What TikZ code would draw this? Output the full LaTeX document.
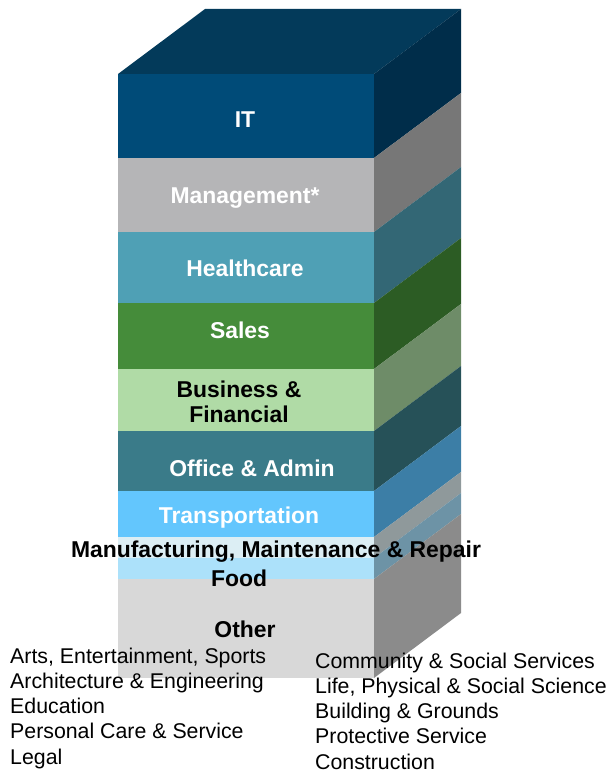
\documentclass[tikz,border=0pt]{standalone}
\usepackage{fontspec}
\setmainfont{Liberation Sans}
\definecolor{topface}{HTML}{033A5A}
\definecolor{itfront}{HTML}{004B78}
\definecolor{itside}{HTML}{002D4A}
\definecolor{mgmtfront}{HTML}{B5B5B7}
\definecolor{mgmtside}{HTML}{777777}
\definecolor{healthfront}{HTML}{4FA0B5}
\definecolor{healthside}{HTML}{336775}
\definecolor{salesfront}{HTML}{458C3A}
\definecolor{salesside}{HTML}{2C5C24}
\definecolor{busfront}{HTML}{B0DBA6}
\definecolor{busside}{HTML}{6E8C68}
\definecolor{officefront}{HTML}{3A7B89}
\definecolor{officeside}{HTML}{265158}
\definecolor{transfront}{HTML}{63C6FD}
\definecolor{transside}{HTML}{3C7EA6}
\definecolor{manufront}{HTML}{DCEEF4}
\definecolor{manuside}{HTML}{8F999B}
\definecolor{foodfront}{HTML}{ACE1FA}
\definecolor{foodside}{HTML}{6D93A6}
\definecolor{otherfront}{HTML}{D8D8D8}
\definecolor{otherside}{HTML}{8B8B8B}
\tikzset{
  layer/.style={font=\fontsize{23}{25}\selectfont\bfseries, anchor=base, inner sep=0pt},
  oclist/.style={font=\fontsize{21.4}{25.2}\selectfont, align=left, anchor=base west, inner sep=0pt}
}
\begin{document}
\begin{tikzpicture}[x=1bp, y=-1bp]
    \useasboundingbox (0,0) rectangle (608,772);
    % top face
    \fill[topface] (118,74)--(205,9)--(461,9)--(374,74)--cycle;
    % front faces
    \fill[itfront] (118,74) rectangle (374,158);
    \fill[mgmtfront] (118,158) rectangle (374,232);
    \fill[healthfront] (118,232) rectangle (374,303);
    \fill[salesfront] (118,303) rectangle (374,369);
    \fill[busfront] (118,369) rectangle (374,431);
    \fill[officefront] (118,431) rectangle (374,491);
    \fill[transfront] (118,491) rectangle (374,537);
    \fill[manufront] (118,537) rectangle (374,558);
    \fill[foodfront] (118,558) rectangle (374,579);
    \fill[otherfront] (118,579) rectangle (374,678);
    % side faces
    \fill[itside] (374,74)--(461,9)--(461,93)--(374,158)--cycle;
    \fill[mgmtside] (374,158)--(461,93)--(461,167)--(374,232)--cycle;
    \fill[healthside] (374,232)--(461,167)--(461,238)--(374,303)--cycle;
    \fill[salesside] (374,303)--(461,238)--(461,304)--(374,369)--cycle;
    \fill[busside] (374,369)--(461,304)--(461,366)--(374,431)--cycle;
    \fill[officeside] (374,431)--(461,366)--(461,426)--(374,491)--cycle;
    \fill[transside] (374,491)--(461,426)--(461,472)--(374,537)--cycle;
    \fill[manuside] (374,537)--(461,472)--(461,493)--(374,558)--cycle;
    \fill[foodside] (374,558)--(461,493)--(461,514)--(374,579)--cycle;
    \fill[otherside] (374,579)--(461,514)--(461,613)--(374,678)--cycle;
    % labels
    \node[layer, white] (it) at (245,127) {IT};
    \node[layer, white] (mgmt) at (245,203) {Management*};
    \node[layer, white] (health) at (245,276) {Healthcare};
    \node[layer, white] (sales) at (240,338) {Sales};
    \node[layer, align=center] (bus) at (239,422) {Business \&\\Financial};
    \node[layer, white] (office) at (252,476) {Office \& Admin};
    \node[layer, white] (trans) at (239,523) {Transportation};
    \node[layer] (manu) at (276,557) {Manufacturing, Maintenance \& Repair};
    \node[layer] (food) at (239,586) {Food};
    \node[layer] (other) at (245,637) {Other};
    \node[oclist] (leftlist) at (10,764) {Arts, Entertainment, Sports\\Architecture \& Engineering\\Education\\Personal Care \& Service\\Legal};
    \node[oclist] (rightlist) at (315,769) {Community \& Social Services\\Life, Physical \& Social Science\\Building \& Grounds\\Protective Service\\Construction};
\end{tikzpicture}
\end{document}
